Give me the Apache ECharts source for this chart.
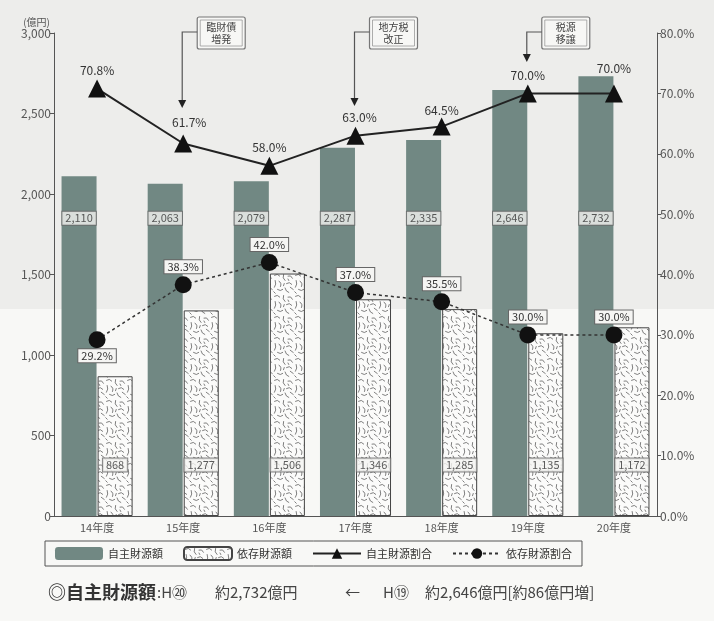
<!DOCTYPE html>
<html><head><meta charset="utf-8">
<script src="https://cdn.jsdelivr.net/npm/echarts@6/dist/echarts.min.js"></script>
<style>html,body{margin:0;padding:0;background:#f8f8f6}#c{width:714px;height:621px}</style>
</head><body><div id="c"></div>
<script>
const categories = ['14年度','15年度','16年度','17年度','18年度','19年度','20年度'];
const ownRevenue = [2110, 2063, 2079, 2287, 2335, 2646, 2732];
const depRevenue = [868, 1277, 1506, 1346, 1285, 1135, 1172];
const ownRatio = [70.8, 61.7, 58.0, 63.0, 64.5, 70.0, 70.0];
const depRatio = [29.2, 38.3, 42.0, 37.0, 35.5, 30.0, 30.0];
const annotations = [
  {idx: 1, text: '臨財債\n増発'},
  {idx: 3, text: '地方税\n改正'},
  {idx: 5, text: '税源\n移譲'}
];
const seriesNames = ['自主財源額', '依存財源額', '自主財源割合', '依存財源割合'];

const FONT = '"Noto Sans CJK JP", "Noto Sans", sans-serif';
const OWN_LABEL_LEVEL = 1850;
const DEP_LABEL_LEVEL = 317;

function makePattern() {
  const c = document.createElement('canvas');
  c.width = 21; c.height = 21;
  const g = c.getContext('2d');
  g.fillStyle = '#fbfbfa'; g.fillRect(0, 0, 21, 21);
  g.strokeStyle = '#555'; g.lineWidth = 1; g.lineCap = 'round';
  g.scale(0.75, 0.75);
  const strokes = [
    [[2,3],[6,0],[9,4]], [[14,2],[12,7],[16,10]], [[20,4],[24,2],[26,7]],
    [[3,10],[5,15],[2,19]], [[8,11],[12,13],[10,18]], [[18,14],[22,11],[25,15]],
    [[6,22],[10,25],[13,22]], [[16,20],[17,25],[21,26]], [[23,19],[27,22]],
    [[1,25],[3,27]], [[15,14],[14,17]], [[20,8],[21,10]]
  ];
  strokes.forEach(s => {
    g.beginPath(); g.moveTo(s[0][0], s[0][1]);
    if (s.length === 3) g.quadraticCurveTo(s[1][0], s[1][1], s[2][0], s[2][1]);
    else g.lineTo(s[1][0], s[1][1]);
    g.stroke();
  });
  return c;
}
const pattern = makePattern();
const fmt = v => v.toLocaleString('en-US');

const boxLabel = {
  backgroundColor: '#f5f5f3', borderColor: '#666', borderWidth: 1,
  padding: [1, 3], color: '#333', fontSize: 11, fontFamily: FONT
};

const ownLabelPos = [
  {distance: 3}, {distance: 6, offset: [6, 0]}, {distance: 3}, {distance: 3, offset: [4, 0]},
  {distance: 1}, {distance: 3}, {distance: 10}
];

const chart = echarts.init(document.getElementById('c'), null, {renderer: 'canvas'});
const option = {
  backgroundColor: '#f8f8f6',
  animation: false,
  grid: {left: 54, right: 57, top: 33, bottom: 105},
  legend: {
    data: seriesNames,
    left: 45, top: 541, width: 600,
    borderColor: '#555', borderWidth: 1, padding: [5, 10],
    itemWidth: 48, itemHeight: 13, itemGap: 20,
    textStyle: {fontSize: 11, color: '#333', fontFamily: FONT}
  },
  xAxis: {
    type: 'category', data: categories,
    axisLine: {lineStyle: {color: '#555'}},
    axisTick: {show: false},
    axisLabel: {fontSize: 11, color: '#555', fontFamily: FONT, margin: 6}
  },
  yAxis: [{
    type: 'value', min: 0, max: 3000, interval: 500,
    name: '(億円)', nameLocation: 'end', nameGap: 6,
    nameTextStyle: {align: 'right', fontSize: 10, color: '#555', fontFamily: FONT, padding: [0, 4, 0, 0]},
    axisLine: {show: true, lineStyle: {color: '#555'}},
    axisTick: {show: true, length: 4, lineStyle: {color: '#555'}},
    splitLine: {show: false},
    axisLabel: {fontSize: 12, color: '#555', fontFamily: FONT, margin: 3, formatter: v => fmt(v)}
  }, {
    type: 'value', min: 0, max: 80, interval: 10, position: 'right',
    axisLine: {show: true, lineStyle: {color: '#555'}},
    axisTick: {show: true, length: 4, lineStyle: {color: '#555'}},
    splitLine: {show: false},
    axisLabel: {fontSize: 12, color: '#555', fontFamily: FONT, margin: 3, formatter: v => v.toFixed(1) + '%'}
  }],
  series: [
    {
      name: seriesNames[0], type: 'bar', yAxisIndex: 0, data: ownRevenue,
      barWidth: 35, barGap: '3%',
      itemStyle: {color: '#718883'}
    },
    {
      name: seriesNames[1], type: 'bar', yAxisIndex: 0, data: depRevenue,
      barWidth: 35,
      itemStyle: {color: {image: pattern, repeat: 'repeat'}, borderColor: '#444', borderWidth: 1}
    },
    {
      name: 'ownLabels', type: 'scatter', yAxisIndex: 0, symbolSize: 0, silent: true,
      data: ownRevenue.map((v, i) => [i, OWN_LABEL_LEVEL]),
      label: Object.assign({show: true, position: 'inside', offset: [-18, 0],
        formatter: p => fmt(ownRevenue[p.dataIndex])}, boxLabel),
      z: 5
    },
    {
      name: 'depLabels', type: 'scatter', yAxisIndex: 0, symbolSize: 0, silent: true,
      data: depRevenue.map((v, i) => [i, DEP_LABEL_LEVEL]),
      label: Object.assign({show: true, position: 'inside', offset: [18, 0],
        formatter: p => fmt(depRevenue[p.dataIndex])}, boxLabel),
      z: 5
    },
    {
      name: seriesNames[2], type: 'line', yAxisIndex: 1,
      data: ownRatio.map((v, i) => ({value: v, label: ownLabelPos[i]})),
      symbol: 'triangle', symbolSize: 18,
      itemStyle: {color: '#111'}, lineStyle: {color: '#222', width: 2},
      label: {show: true, position: 'top', color: '#333', fontSize: 12, fontFamily: FONT,
        formatter: p => p.value.toFixed(1) + '%'},
      z: 6
    },
    {
      name: seriesNames[3], type: 'line', yAxisIndex: 1,
      data: depRatio.map((v, i) => ({value: v, label: i === 0 ? {position: 'bottom', distance: 1} : {}})),
      symbol: 'circle', symbolSize: 17,
      itemStyle: {color: '#111'}, lineStyle: {color: '#333', width: 1.5, type: [3, 3]},
      label: Object.assign({show: true, position: 'top', distance: 3,
        formatter: p => p.value.toFixed(1) + '%'}, boxLabel),
      z: 6
    }
  ],
  graphic: [
    {type: 'rect', z: -10, silent: true, shape: {x: 0, y: 0, width: 714, height: 309}, style: {fill: '#ededeb'}},
    {type: 'text', left: 48, top: 583, style: {text: '◎自主財源額', fontSize: 18, fontWeight: 'bold', fill: '#333', fontFamily: FONT}},
    {type: 'text', left: 157, top: 585, style: {text: ':H⑳', fontSize: 15, fill: '#444', fontFamily: FONT}},
    {type: 'text', left: 215, top: 585, style: {text: '約2,732億円', fontSize: 15, fill: '#444', fontFamily: FONT}},
    {type: 'text', left: 345, top: 585, style: {text: '←', fontSize: 15, fill: '#444', fontFamily: FONT}},
    {type: 'text', left: 383, top: 585, style: {text: 'H⑲', fontSize: 15, fill: '#444', fontFamily: FONT}},
    {type: 'text', left: 425, top: 585, style: {text: '約2,646億円[約86億円増]', fontSize: 15, fill: '#444', fontFamily: FONT}}
  ]
};
chart.setOption(option);

// Annotation callouts, positioned from the library's own category scale
const tipY = [108, 106, 62];
const extra = [];
annotations.forEach((a, k) => {
  const cx = chart.convertToPixel({xAxisIndex: 0}, a.idx);
  const bx = cx + 14, by = 17, bw = 48, bh = 32;
  extra.push({type: 'rect', shape: {x: bx, y: by, width: bw, height: bh, r: 2},
    style: {fill: '#f7f7f5', stroke: '#777', lineWidth: 1.2}, z: 20});
  extra.push({type: 'rect', shape: {x: bx + 3, y: by + 3, width: bw - 6, height: bh - 6},
    style: {fill: 'none', stroke: '#999', lineWidth: 0.8}, z: 20});
  extra.push({type: 'text', x: bx + bw / 2, y: by + bh / 2, z: 21,
    style: {text: a.text, align: 'center', verticalAlign: 'middle', fontSize: 10, lineHeight: 12,
      fill: '#444', fontFamily: FONT}});
  extra.push({type: 'polyline', z: 20, shape: {points: [[bx, by + 15], [cx - 1, by + 15], [cx - 1, tipY[k] - 7]]},
    style: {stroke: '#555', lineWidth: 1.2, fill: 'none'}});
  extra.push({type: 'polygon', z: 20, shape: {points: [[cx - 5, tipY[k] - 8], [cx + 3, tipY[k] - 8], [cx - 1, tipY[k]]]},
    style: {fill: '#222'}});
});
chart.setOption({graphic: option.graphic.concat(extra)});
</script>
</body></html>
